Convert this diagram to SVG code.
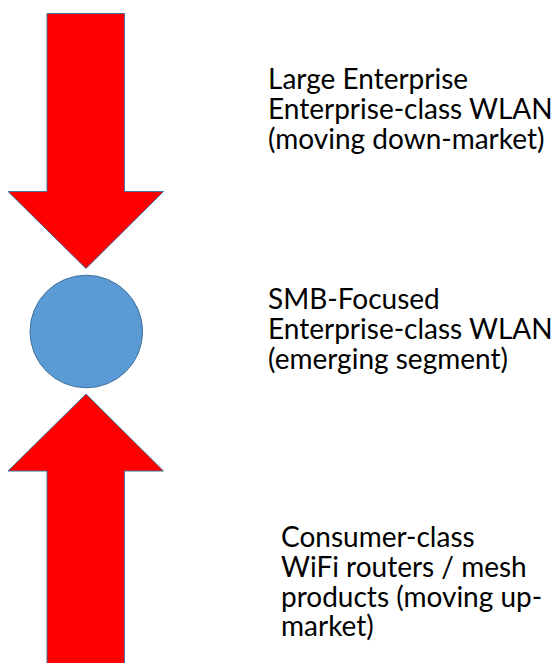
<svg xmlns="http://www.w3.org/2000/svg" width="556" height="663" viewBox="0 0 556 663">
<style>
.arrow{fill:#FF0000;stroke:#41719C;stroke-width:1}
.dot{fill:#5B9BD5;stroke:#41719C;stroke-width:1}
.lbl{font-family:Lato,"Liberation Sans",sans-serif;font-size:28px;fill:#000}
</style>
<rect width="556" height="663" fill="#fff"/>
<g id="connectors">
<path id="arrow-down" class="arrow" d="M47,13.5 H124.5 V191.5 H163.5 L86,268.5 L8,191.5 H47 Z"/>
<path id="arrow-up" class="arrow" d="M86,394 L163.5,471 H124.5 V670 H47 V471 H8 Z"/>
</g>
<g id="node-smb">
<circle class="dot" cx="86.3" cy="331.5" r="56.3"/>
</g>
<g id="label-large">
<text class="lbl" x="268" y="88.5">Large Enterprise</text>
<text class="lbl" x="268" y="118.5">Enterprise-class WLAN</text>
<text class="lbl" x="268" y="148.5">(moving down-market)</text>
</g>
<g id="label-smb">
<text class="lbl" x="268" y="309">SMB-Focused</text>
<text class="lbl" x="268" y="339">Enterprise-class WLAN</text>
<text class="lbl" x="268" y="369">(emerging segment)</text>
</g>
<g id="label-consumer">
<text class="lbl" x="281" y="546.5">Consumer-class</text>
<text class="lbl" x="281" y="576.5">WiFi routers / mesh</text>
<text class="lbl" x="281" y="606.5">products (moving up-</text>
<text class="lbl" x="281" y="636">market)</text>
</g>
</svg>
